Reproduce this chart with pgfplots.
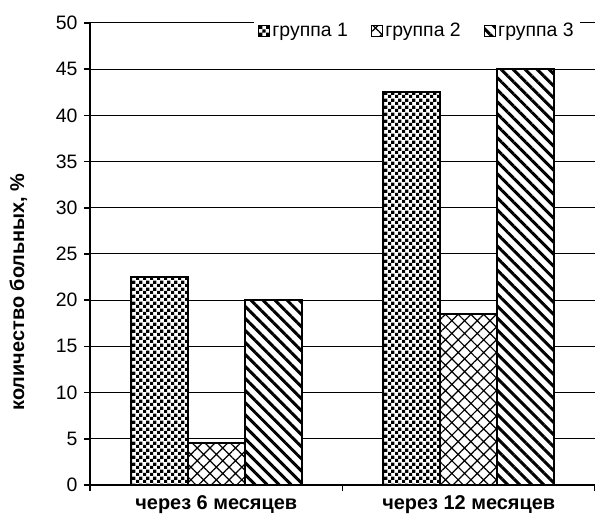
\documentclass[border=0pt]{standalone}
\usepackage{fontspec}
\setmainfont{Liberation Sans}
\usepackage{pgfplots}
\usepackage{pgfplotstable}
\pgfplotsset{compat=1.18}
\usetikzlibrary{patterns,patterns.meta}

\pgfdeclarepatternformonly{mycheck}{\pgfpointorigin}{\pgfpoint{7.2bp}{7.2bp}}{\pgfpoint{7.2bp}{7.2bp}}{%
 \pgfpathrectangle{\pgfpointorigin}{\pgfpoint{3.6bp}{3.6bp}}%
 \pgfpathrectangle{\pgfpoint{3.6bp}{3.6bp}}{\pgfpoint{3.6bp}{3.6bp}}%
 \pgfusepath{fill}}

\pgfplotstableread{
x g1 g2 g3
0 22.5 4.5 20
1 42.5 18.5 45
}\datatable

\begin{document}
\begin{tikzpicture}
\begin{axis}[
  width=505bp, height=462bp, scale only axis,
  xmin=-0.5, xmax=1.5, ymin=0, ymax=50,
  ytick={0,5,...,50},
  xtick={-0.5,0.5,1.5}, x tick label as interval,
  xticklabels={через 6 месяцев, через 12 месяцев},
  axis x line*=bottom, axis y line*=left,
  axis line style={line width=2.2bp, black},
  ymajorgrids, grid style={line width=1bp, black},
  tick style={line width=1.5bp, black}, major tick length=6bp, tick align=outside,
  ticklabel style={font=\fontsize{19.5}{22}\selectfont},
  yticklabel style={xshift=-3bp},
  xticklabel style={font=\bfseries\fontsize{20}{22}\selectfont, yshift=-1bp},
  /pgf/number format/assume math mode=true,
  ylabel={количество больных, \%},
  ylabel style={font=\bfseries\fontsize{20}{22}\selectfont, at={(axis description cs:-0.142,0.418)}, anchor=center},
  ybar=0pt, bar width=57bp,
  legend columns=3,
  legend cell align=left,
  legend image code/.code={\draw[#1, line width=1.5bp] (0bp,-5.5bp) rectangle (11bp,5.5bp);},
  legend style={at={(0.970,0.983)}, anchor=east, draw=none, fill=white, inner sep=4bp,
    font=\fontsize{19.5}{22}\selectfont,
    /tikz/every even column/.append style={column sep=21bp}},
]
\addplot[draw=black, line width=2bp, fill=white, postaction={pattern=mycheck}, bar shift=-57bp] table[x=x,y=g1] {\datatable};
\addplot[draw=black, line width=2bp, fill=white, postaction={pattern={Hatch[angle=45,distance=9bp,line width=1.2bp]}}, bar shift=0bp] table[x=x,y=g2] {\datatable};
\addplot[draw=black, line width=2bp, fill=white, postaction={pattern={Lines[angle=-45,distance=8.5bp,line width=3bp]}}, bar shift=57bp] table[x=x,y=g3] {\datatable};
\legend{группа 1, группа 2, группа 3}
\end{axis}
\pgfresetboundingbox
\path ([xshift=-90bp,yshift=-33bp]current axis.south west) rectangle ([yshift=23bp]current axis.north east);
\end{tikzpicture}
\end{document}
